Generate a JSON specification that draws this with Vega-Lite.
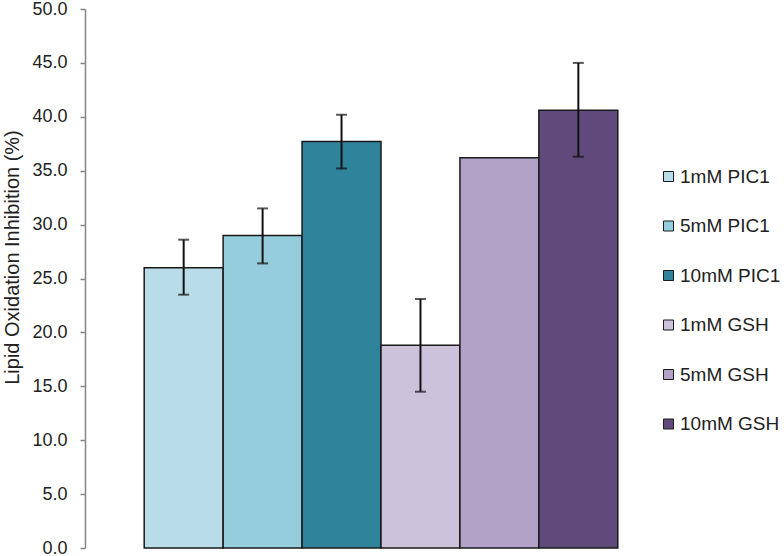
{
  "$schema": "https://vega.github.io/schema/vega-lite/v6.json",
  "autosize": "none",
  "width": 592,
  "height": 539,
  "padding": {"left": 85, "top": 9, "right": 107, "bottom": 8},
  "background": "white",
  "config": {"view": {"stroke": null}, "font": "Liberation Sans"},
  "data": {"values": [
    {"series": "1mM PIC1", "value": 26.0, "lo": 23.5, "hi": 28.6},
    {"series": "5mM PIC1", "value": 29.0, "lo": 26.4, "hi": 31.5},
    {"series": "10mM PIC1", "value": 37.7, "lo": 35.2, "hi": 40.2},
    {"series": "1mM GSH", "value": 18.8, "lo": 14.5, "hi": 23.1},
    {"series": "5mM GSH", "value": 36.2, "lo": null, "hi": null},
    {"series": "10mM GSH", "value": 40.6, "lo": 36.3, "hi": 45.0}
  ]},
  "encoding": {
    "x": {"field": "series", "type": "nominal", "sort": null, "axis": null,
      "scale": {"paddingInner": 0, "paddingOuter": 0.75}}
  },
  "layer": [
    {
      "mark": {"type": "bar", "stroke": "#1a1a1a", "strokeWidth": 1.5},
      "encoding": {
        "y": {"field": "value", "type": "quantitative",
          "scale": {"domain": [0, 50]},
          "axis": {"values": [0,5,10,15,20,25,30,35,40,45,50], "format": ".1f",
            "grid": false, "domainColor": "#868686", "domainWidth": 1.5,
            "tickColor": "#868686", "tickSize": 5, "tickWidth": 1.5,
            "labelFontSize": 18, "labelColor": "#222222", "labelPadding": 13,
            "title": "Lipid Oxidation Inhibition (%)", "titleFontSize": 20,
            "titleFontWeight": "normal", "titleColor": "#222222",
            "titleX": -73, "titleY": 248, "titleAngle": 270,
            "titleAlign": "center", "titleBaseline": "middle"}},
        "color": {"field": "series", "type": "nominal",
          "scale": {"domain": ["1mM PIC1","5mM PIC1","10mM PIC1","1mM GSH","5mM GSH","10mM GSH"],
            "range": ["#b8dde8","#96cddd","#2f849c","#ccc2dc","#b3a2c8","#5f4a7b"]},
          "legend": {"title": null, "orient": "none", "legendX": 574, "legendY": 158,
            "symbolType": "square", "symbolSize": 100, "symbolStrokeColor": "#1a1a1a",
            "symbolStrokeWidth": 1, "labelFontSize": 19, "labelColor": "#222222",
            "rowPadding": 29.5, "labelOffset": 2}}
      }
    },
    {
      "transform": [{"filter": "datum.lo != null"}],
      "mark": {"type": "rule", "color": "#111111", "strokeWidth": 2},
      "encoding": {"y": {"field": "lo", "type": "quantitative"}, "y2": {"field": "hi"}}
    },
    {
      "transform": [{"filter": "datum.lo != null"}],
      "mark": {"type": "tick", "color": "#111111", "thickness": 2, "size": 11},
      "encoding": {"y": {"field": "lo", "type": "quantitative"}}
    },
    {
      "transform": [{"filter": "datum.hi != null"}],
      "mark": {"type": "tick", "color": "#111111", "thickness": 2, "size": 11},
      "encoding": {"y": {"field": "hi", "type": "quantitative"}}
    }
  ]
}
